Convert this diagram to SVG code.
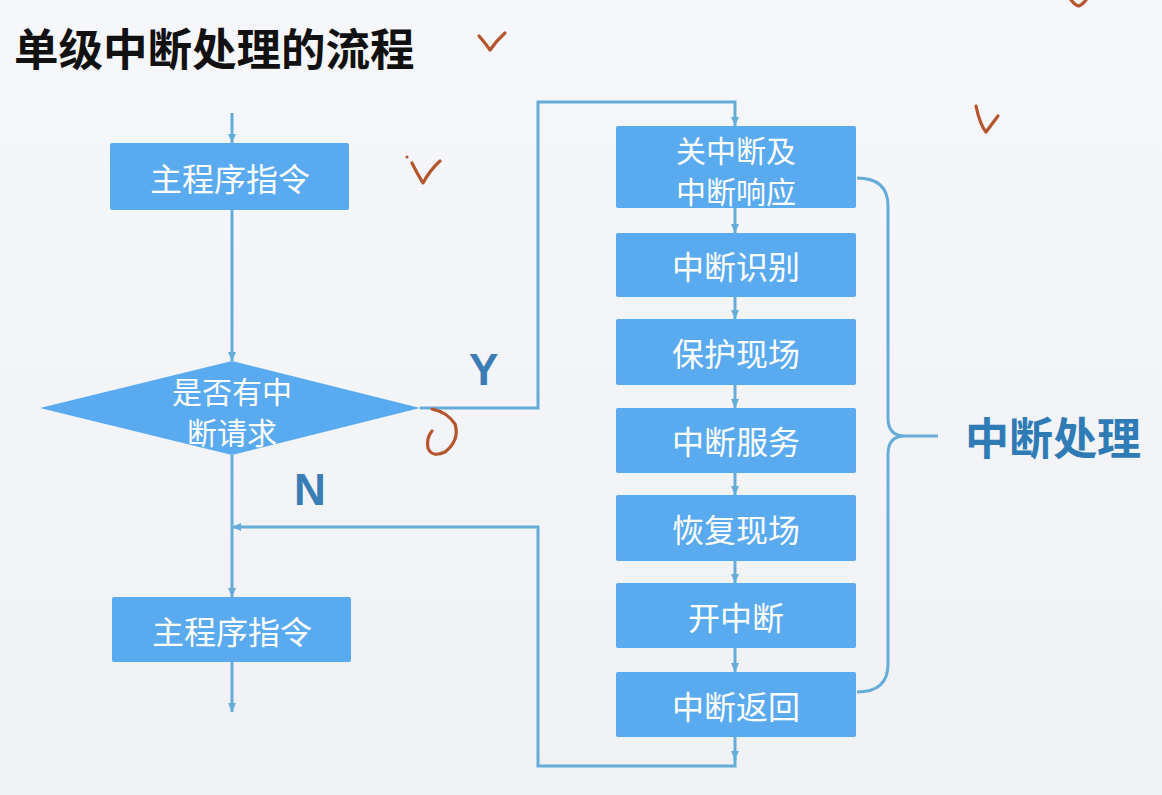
<svg xmlns="http://www.w3.org/2000/svg" width="1162" height="795" viewBox="0 0 1162 795">
<defs>
<style>
.box{fill:#5aaaf0;}
.bt{fill:#ffffff;font-family:"Noto Sans CJK SC","Noto Sans",sans-serif;font-size:32px;text-anchor:middle;dominant-baseline:central;}
.bt2{font-size:30px;}
.ln{fill:none;stroke:#66acd8;stroke-width:3;}
.arr{marker-end:url(#ah);}
.yn{fill:#3a7db5;font-family:"Liberation Sans",Arial,sans-serif;font-weight:bold;font-size:44px;}
.mk{fill:none;stroke:#b4552e;stroke-width:3.2;stroke-linecap:round;stroke-linejoin:round;}
</style>
<marker id="ah" markerUnits="userSpaceOnUse" markerWidth="10" markerHeight="10" refX="9" refY="5" orient="auto">
<path d="M0,1 L9,5 L0,9 z" fill="#66acd8"/>
</marker>
<linearGradient id="bg" x1="0" y1="0" x2="0" y2="1">
<stop offset="0" stop-color="#f6f7fa"/>
<stop offset="1" stop-color="#eff1f5"/>
</linearGradient>
</defs>
<rect x="0" y="0" width="1162" height="795" fill="url(#bg)"/>
<text id="title" x="14" y="66" font-family="'Noto Sans CJK SC',sans-serif" font-weight="bold" font-size="44.5" fill="#111111">单级中断处理的流程</text>
<g id="connectors">
<path class="ln arr" d="M232 113 V143"/>
<path class="ln arr" d="M232 210 V361"/>
<path class="ln arr" d="M420 408 H538 V102 H735 V126"/>
<path class="ln arr" d="M232 455 V597"/>
<path class="ln arr" d="M232 662 V712"/>
<path class="ln arr" d="M735 208 V233"/>
<path class="ln arr" d="M735 297 V319"/>
<path class="ln arr" d="M735 385 V408"/>
<path class="ln arr" d="M735 473 V495"/>
<path class="ln arr" d="M735 561 V583"/>
<path class="ln arr" d="M735 648 V672"/>
<path class="ln arr" d="M735 737 V760"/>
<path class="ln arr" d="M735 758 V766 H538 V527 H232"/>
</g>
<g id="brace">
<path class="ln" d="M857 178 Q888 178 888 206 V418 Q888 436 905 436 Q888 436 888 454 V664 Q888 692 857 692"/>
<path class="ln" d="M905 436 H938"/>
</g>
<g id="main1">
<rect class="box" x="110" y="143" width="239" height="67" rx="2"/>
<text class="bt" x="230" y="177">主程序指令</text>
</g>
<g id="decision">
<polygon class="box" points="40,408 232,361 420,408 232,455"/>
<text class="bt bt2" x="232" y="390">是否有中</text>
<text class="bt bt2" x="232" y="431">断请求</text>
</g>
<g id="main2">
<rect class="box" x="112" y="597" width="239" height="65" rx="2"/>
<text class="bt" x="232" y="630">主程序指令</text>
</g>
<g id="s1">
<rect class="box" x="616" y="126" width="240" height="82" rx="2"/>
<text class="bt bt2" x="736" y="149">关中断及</text>
<text class="bt bt2" x="736" y="190">中断响应</text>
</g>
<g id="s2">
<rect class="box" x="616" y="233" width="240" height="64" rx="2"/>
<text class="bt" x="736" y="265">中断识别</text>
</g>
<g id="s3">
<rect class="box" x="616" y="319" width="240" height="66" rx="2"/>
<text class="bt" x="736" y="352">保护现场</text>
</g>
<g id="s4">
<rect class="box" x="616" y="408" width="240" height="65" rx="2"/>
<text class="bt" x="736" y="440">中断服务</text>
</g>
<g id="s5">
<rect class="box" x="616" y="495" width="240" height="66" rx="2"/>
<text class="bt" x="736" y="528">恢复现场</text>
</g>
<g id="s6">
<rect class="box" x="616" y="583" width="240" height="65" rx="2"/>
<text class="bt" x="736" y="616">开中断</text>
</g>
<g id="s7">
<rect class="box" x="616" y="672" width="240" height="65" rx="2"/>
<text class="bt" x="736" y="705">中断返回</text>
</g>
<text id="label-y" class="yn" x="469" y="385">Y</text>
<text id="label-n" class="yn" x="294" y="505">N</text>
<text id="label-proc" x="965" y="436" font-family="'Noto Sans CJK SC',sans-serif" font-weight="bold" font-size="44" fill="#2f7bb5" dominant-baseline="central">中断处理</text>
<g id="annotations">
<path class="mk" d="M479 36 Q486 44 490 50 Q497 40 505 33"/>
<circle cx="407" cy="157" r="1.6" fill="#b4552e"/>
<path class="mk" d="M412 163 Q418 175 423 183 Q430 170 440 161"/>
<path class="mk" d="M976 106 Q980 125 986 132 Q992 124 998 116"/>
<path class="mk" d="M1071 0 Q1076 6 1079 6 Q1083 4 1086 0"/>
<path class="mk" d="M432 409 Q447 412 455 424 Q460 440 445 452 Q432 458 428 448 Q426 438 432 431"/>
</g>
</svg>
